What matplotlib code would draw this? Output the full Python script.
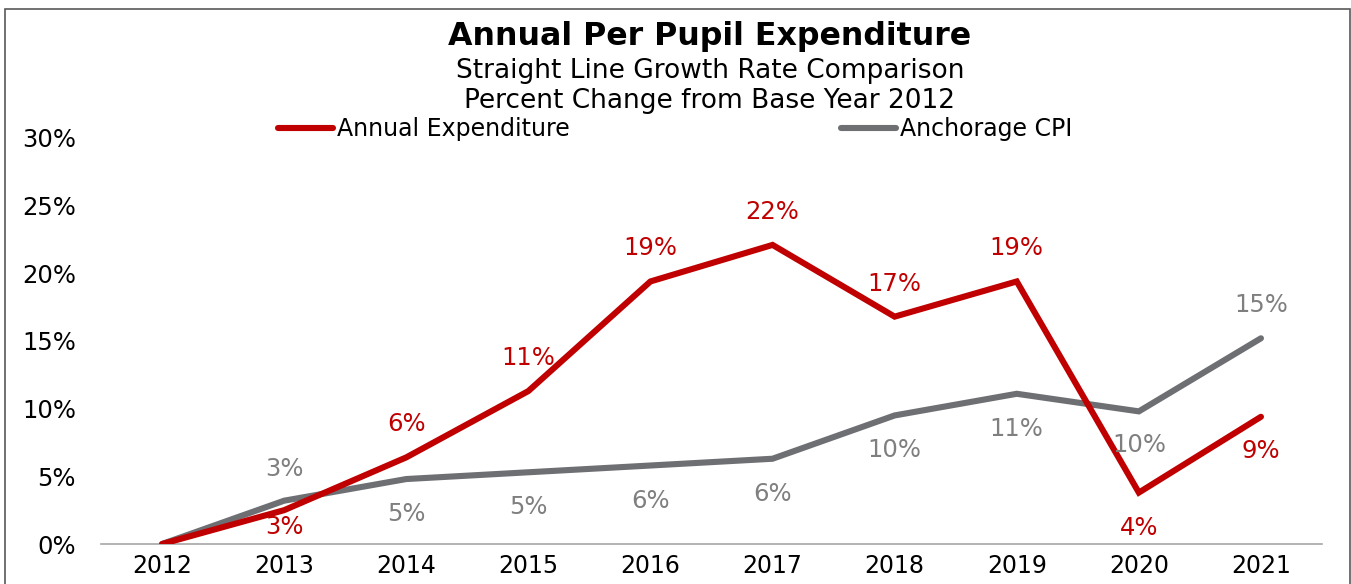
import matplotlib
matplotlib.use("Agg")
import matplotlib.pyplot as plt
from matplotlib.patches import Rectangle
from matplotlib.ticker import FuncFormatter

years = ["2012", "2013", "2014", "2015", "2016", "2017", "2018", "2019", "2020", "2021"]
expenditure = [0.0, 2.5, 6.4, 11.3, 19.4, 22.1, 16.8, 19.4, 3.8, 9.4]
cpi = [0.0, 3.2, 4.8, 5.3, 5.8, 6.3, 9.5, 11.1, 9.8, 15.2]
exp_labels = [None, "3%", "6%", "11%", "19%", "22%", "17%", "19%", "4%", "9%"]
cpi_labels = [None, "3%", "5%", "5%", "6%", "6%", "10%", "11%", "10%", "15%"]
exp_pos = [0, -17, 33, 33, 33, 33, 33, 33, -35, -34]
cpi_pos = [0, 32, -35, -35, -35, -35, -35, -35, -34, 33]
yticks = [0, 5, 10, 15, 20, 25, 30]

RED = "#C00000"
GRAY = "#6E6F73"
LGRAY = "#7F7F7F"

plt.rcParams['font.family'] = ['DejaVu Sans']
W, H = 1351, 584
fig = plt.figure(figsize=(W / 100, H / 100), dpi=100)
fig.patches.append(Rectangle((5.5 / W, -0.1), (1350 - 5.5) / W, 1.1 - 9.5 / H,
                             transform=fig.transFigure, fill=False,
                             edgecolor="#595959", linewidth=1.2))

ax = fig.add_axes([101 / W, 40 / H, 1221 / W, 406 / H])
x = list(range(len(years)))
l1, = ax.plot(x, expenditure, color=RED, linewidth=4.4, solid_capstyle='round',
              solid_joinstyle='miter', label="Annual Expenditure", zorder=3)
l2, = ax.plot(x, cpi, color=GRAY, linewidth=4.4, solid_capstyle='round',
              solid_joinstyle='miter', label="Anchorage CPI", zorder=2)

for xi, v, lab, off in zip(x, expenditure, exp_labels, exp_pos):
    if lab:
        ax.annotate(lab, (xi, v), xytext=(0, off), textcoords='offset pixels',
                    ha='center', va='center', color=RED, fontsize=17.5)
for xi, v, lab, off in zip(x, cpi, cpi_labels, cpi_pos):
    if lab:
        ax.annotate(lab, (xi, v), xytext=(0, off), textcoords='offset pixels',
                    ha='center', va='center', color=LGRAY, fontsize=17.5)

ax.set_xlim(-0.5, len(years) - 0.5)
ax.set_ylim(0, 30)
ax.set_xticks(x)
ax.set_xticklabels(years)
ax.set_yticks(yticks)
ax.yaxis.set_major_formatter(FuncFormatter(lambda v, p: f"{v:.0f}%"))
ax.tick_params(axis='y', length=0, pad=18, labelsize=17.5)
ax.tick_params(axis='x', length=0, pad=7, labelsize=17)
for s in ['top', 'right', 'left']:
    ax.spines[s].set_visible(False)
ax.spines['bottom'].set_color("#A6A6A6")
ax.spines['bottom'].set_linewidth(1.2)
ax.patch.set_alpha(0)

fig.text(710 / W, 1 - 36 / H, "Annual Per Pupil Expenditure", ha='center', va='center',
         fontsize=22.8, fontweight='bold')
fig.text(710 / W, 1 - 71 / H, "Straight Line Growth Rate Comparison", ha='center',
         va='center', fontsize=19)
fig.text(710 / W, 1 - 101 / H, "Percent Change from Base Year 2012", ha='center',
         va='center', fontsize=19)

leg = fig.legend(handles=[l1, l2], loc='center left', bbox_to_anchor=(278 / W, 1 - 129 / H),
                 ncol=2, frameon=False, fontsize=17, handlelength=2.33, handletextpad=0.17,
                 columnspacing=11.5, borderaxespad=0, borderpad=0)

fig.savefig("out.png", dpi=100)
